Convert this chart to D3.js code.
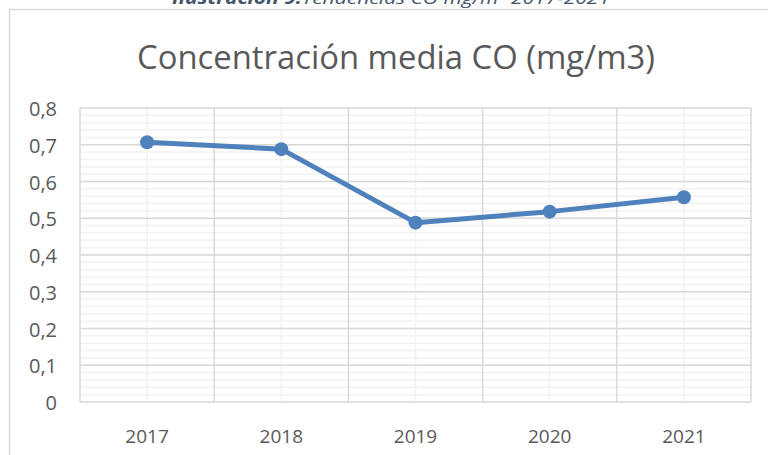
<!DOCTYPE html>
<html>
<head>
<meta charset="utf-8">
<script src="https://cdn.jsdelivr.net/npm/d3@7"></script>
<style>
  body { margin: 0; background: #fff; }
  svg { display: block; }
  text { font-family: "Open Sans", "Noto Sans", sans-serif; }
</style>
</head>
<body>
<svg class="chart"></svg>
<script>
const years = ["2017", "2018", "2019", "2020", "2021"]
const coValues = [0.707, 0.688, 0.488, 0.518, 0.557]
const yTicks = [0, 0.1, 0.2, 0.3, 0.4, 0.5, 0.6, 0.7, 0.8]

const width = 768, height = 455
const svg = d3.select("svg.chart")
    .attr("width", width)
    .attr("height", height)

// chart frame (right/bottom edges fall outside the crop)
svg.append("rect")
    .attr("x", 9.5).attr("y", 9.5)
    .attr("width", 800).attr("height", 500)
    .attr("fill", "#fff")
    .attr("stroke", "#d9d9d9")
    .attr("stroke-width", 1.5)

// caption, cut off by the top edge like in the source document
svg.append("text")
    .attr("x", 391).attr("y", 4)
    .attr("text-anchor", "middle")
    .attr("font-size", 17)
    .attr("font-style", "italic")
    .attr("fill", "#44546a")
    .attr("textLength", 438)
    .attr("lengthAdjust", "spacingAndGlyphs")
    .call(t => {
        t.append("tspan").attr("font-weight", "bold").text("Ilustración 9:")
        t.append("tspan").text("Tendencias CO mg/m³ 2017-2021")
    })

svg.append("text")
    .attr("x", 396).attr("y", 69)
    .attr("text-anchor", "middle")
    .attr("font-size", 33)
    .attr("fill", "#595959")
    .attr("textLength", 518)
    .attr("lengthAdjust", "spacingAndGlyphs")
    .text("Concentración media CO (mg/m3)")

const x = d3.scalePoint()
    .domain(years)
    .range([80, 751])
    .padding(0.5)
const step = x.step()

const y = d3.scaleLinear()
    .domain([0, 0.8])
    .range([402, 108])

const grid = svg.append("g")

// minor horizontal gridlines every 0.02
grid.selectAll("line.minorY")
    .data(d3.range(0, 41).map(i => i * 0.02))
    .enter()
    .append("line")
    .attr("x1", x.range()[0]).attr("x2", x.range()[1])
    .attr("y1", d => y(d)).attr("y2", d => y(d))
    .attr("stroke", "#f2f2f2")
    .attr("stroke-width", 1.5)

// minor vertical gridlines at category centres
grid.selectAll("line.minorX")
    .data(years)
    .enter()
    .append("line")
    .attr("x1", d => x(d)).attr("x2", d => x(d))
    .attr("y1", y(0)).attr("y2", y(0.8))
    .attr("stroke", "#f2f2f2")
    .attr("stroke-width", 1.5)

// major horizontal gridlines
grid.selectAll("line.majorY")
    .data(yTicks)
    .enter()
    .append("line")
    .attr("x1", x.range()[0]).attr("x2", x.range()[1])
    .attr("y1", d => y(d)).attr("y2", d => y(d))
    .attr("stroke", "#d9d9d9")
    .attr("stroke-width", 1.5)

// major vertical gridlines at category boundaries
grid.selectAll("line.majorX")
    .data(d3.range(years.length + 1))
    .enter()
    .append("line")
    .attr("x1", i => x.range()[0] + i * step).attr("x2", i => x.range()[0] + i * step)
    .attr("y1", y(0)).attr("y2", y(0.8))
    .attr("stroke", "#d9d9d9")
    .attr("stroke-width", 1.5)

const fmt = d => d3.format(".1~f")(d).replace(".", ",")

svg.append("g")
    .selectAll("text")
    .data(yTicks)
    .enter()
    .append("text")
    .attr("x", 57)
    .attr("y", d => y(d) + 8)
    .attr("text-anchor", "end")
    .attr("font-size", 20)
    .attr("fill", "#595959")
    .text(fmt)

svg.append("g")
    .selectAll("text")
    .data(years)
    .enter()
    .append("text")
    .attr("x", d => x(d))
    .attr("y", 443)
    .attr("text-anchor", "middle")
    .attr("font-size", 19)
    .attr("fill", "#595959")
    .text(d => d)

const line = d3.line()
    .x((d, i) => x(years[i]))
    .y(d => y(d))

svg.append("path")
    .datum(coValues)
    .attr("d", line)
    .attr("fill", "none")
    .attr("stroke", "#4f81bd")
    .attr("stroke-width", 5)
    .attr("stroke-linejoin", "round")

svg.append("g")
    .selectAll("circle")
    .data(coValues)
    .enter()
    .append("circle")
    .attr("cx", (d, i) => x(years[i]))
    .attr("cy", d => y(d))
    .attr("r", 7)
    .attr("fill", "#4f81bd")
</script>
</body>
</html>
